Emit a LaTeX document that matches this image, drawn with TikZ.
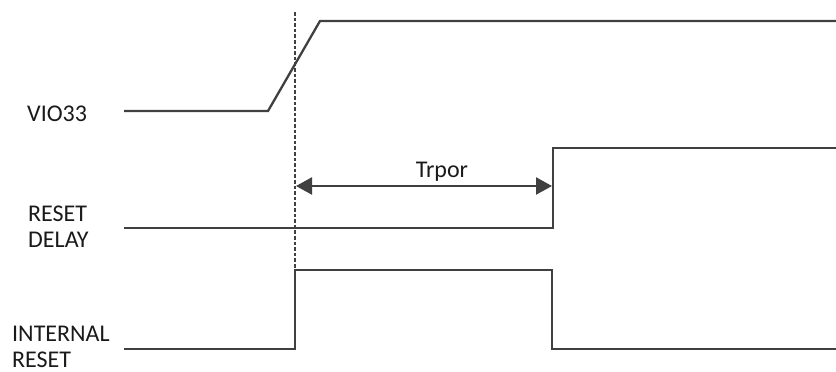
\documentclass[tikz,border=0pt]{standalone}
\usepackage{fontspec}
\setmainfont{Carlito}
\usetikzlibrary{arrows.meta}
\definecolor{wave}{HTML}{404040}
\definecolor{txt}{HTML}{1A1A1A}
\begin{document}
\begin{tikzpicture}[x=1pt,y=-1pt,
  signal/.style={draw=wave,line width=2.3pt,line join=miter},
  marker/.style={draw=wave,line width=2.4pt,dash pattern=on 3.6pt off 2pt},
  span/.style={draw=wave,line width=2.3pt,{Triangle[length=16pt,width=17pt]}-{Triangle[length=16pt,width=17pt]}},
  lbl/.style={anchor=base west,inner sep=0pt,text=txt,font=\fontsize{24}{28}\selectfont},
  dimlbl/.style={anchor=base,inner sep=0pt,text=txt,font=\fontsize{24}{28}\selectfont}]
\useasboundingbox (0,0) rectangle (836,372);
% labels
\node[lbl] (lvio) at (27,121) {VIO33};
\node[lbl] (lrd1) at (28,221) {RESET};
\node[lbl] (lrd2) at (28,247) {DELAY};
\node[lbl] (lir1) at (12,341) {INTERNAL};
\node[lbl] (lir2) at (12,367) {RESET};
% VIO33
\coordinate (v0) at (124,111);
\coordinate (v1) at (268,111);
\coordinate (v2) at (320,21);
\coordinate (v3) at (836,21);
\draw[signal] (v0) -- (v1) -- (v2) -- (v3);
% RESET DELAY
\coordinate (d0) at (124,228);
\coordinate (d1) at (553,228);
\coordinate (d2) at (553,148);
\coordinate (d3) at (836,148);
\draw[signal] (d0) -- (d1) -- (d2) -- (d3);
% INTERNAL RESET
\coordinate (i0) at (124,349);
\coordinate (i1) at (295,349);
\coordinate (i2) at (295,270);
\coordinate (i3) at (552,270);
\coordinate (i4) at (552,349);
\coordinate (i5) at (836,349);
\draw[signal] (i0) -- (i1) -- (i2) -- (i3) -- (i4) -- (i5);
% marker
\coordinate (m0) at (295,12);
\coordinate (m1) at (295,268);
\draw[marker] (m0) -- (m1);
% Trpor
\coordinate (a0) at (296,186);
\coordinate (a1) at (552,186);
\draw[span] (a0) -- (a1);
\node[dimlbl] (ltr) at (442,177) {Trpor};
\end{tikzpicture}
\end{document}
